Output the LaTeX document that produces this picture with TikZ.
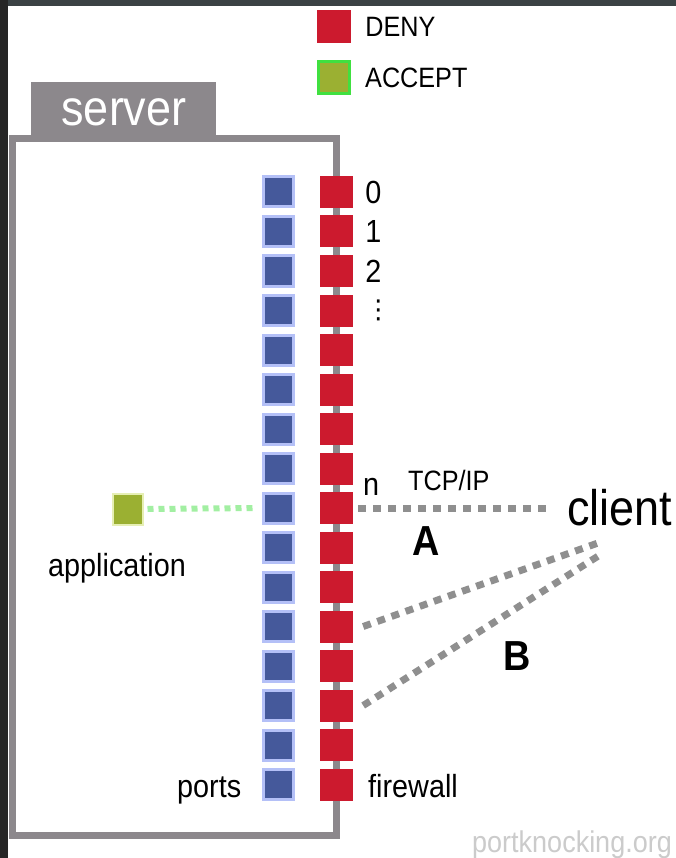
\documentclass[tikz,border=0pt]{standalone}
\usepackage{fontspec}
\setmainfont{Liberation Sans}[FakeStretch=0.9]
\newfontfamily\dotsfont{DejaVu Sans}
\usepackage{tikz}
\usetikzlibrary{positioning}

\definecolor{denyred}{HTML}{CC1A2E}
\definecolor{portblue}{HTML}{45599B}
\definecolor{porthalo}{HTML}{B4C0F7}
\definecolor{wallgray}{HTML}{8C888C}
\definecolor{appgreen}{HTML}{9BB032}
\definecolor{apphalo}{HTML}{E6EFB4}
\definecolor{linkgreen}{HTML}{A2EFA2}
\definecolor{acceptrim}{HTML}{40E040}
\definecolor{knockgray}{HTML}{8F8F8F}
\definecolor{framedark}{HTML}{3B4244}
\definecolor{credit}{HTML}{CBCBCB}

\tikzset{
    deny/.style={fill=denyred, minimum width=33pt, minimum height=32pt, inner sep=0pt},
    port/.style={fill=portblue, draw=porthalo, line width=3pt, minimum size=30pt, inner sep=0pt},
    wall/.style={draw=wallgray, line width=7pt},
    lbl/.style={font=\fontsize{32}{36}\selectfont, inner sep=0pt},
    knock/.style={draw=knockgray, line width=7pt, dash pattern=on 8pt off 7pt},
    link/.style={draw=linkgreen, line width=6pt, dash pattern=on 6pt off 5pt}
}

\begin{document}
\begin{tikzpicture}[x=1pt, y=-1pt]
    \useasboundingbox (0,0) rectangle (676,858);
    \fill[white] (0,0) rectangle (676,858);
    \fill[framedark] (0,0) rectangle (676,6);
    \fill[black!85] (0,0) rectangle (8,858);

    % legend
    \node[deny, minimum width=34pt, minimum height=33pt] (denykey) at (334,26.5) {};
    \node[lbl, font=\fontsize{28}{32}\selectfont, right=14pt of denykey] (denytxt) {DENY};
    \node[fill=appgreen, draw=acceptrim, line width=3pt, minimum width=31pt, minimum height=32pt, inner sep=0pt] (acceptkey) at (334,77.5) {};
    \node[lbl, font=\fontsize{28}{32}\selectfont, right=14pt of acceptkey] (accepttxt) {ACCEPT};

    % server
    \fill[wallgray] (31,82) rectangle (216,139);
    \node[lbl, font=\fontsize{50}{56}\selectfont, text=white, anchor=base] (srv) at (124,126) {server};
    \draw[wall] (12,139) rectangle (336,835);

    \foreach \i in {0,...,15} {
        \node[port] (p\i) at (278.5,{192+39.5*\i}) {};
        \node[deny] (f\i) at (336.5,{192+39.5*\i}) {};
    }

    \node[lbl, right=12pt of f0] (n0) {0};
    \node[lbl, right=12pt of f1] (n1) {1};
    \node[lbl, right=12pt of f2] (n2) {2};
    \node[inner sep=0pt, font=\dotsfont\fontsize{26}{28}\selectfont, right=12pt of f3] (ndots) {⋮};
    \node[lbl, anchor=base west] (nn) at (363,495) {n};

    % application
    \node[fill=appgreen, draw=apphalo, line width=2pt, minimum width=30pt, minimum height=31pt, inner sep=0pt] (app) at (127.5,509) {};
    \node[lbl, anchor=base west] (apptxt) at (48,576) {application};
    \draw[link] ([xshift=4pt]app.east) -- ([xshift=-5pt]p8.west);

    % client
    \node[lbl, font=\fontsize{50}{56}\selectfont, anchor=base west] (client) at (567,525) {client};
    \node[lbl, font=\fontsize{28}{32}\selectfont, anchor=base west] (tcp) at (408,490) {TCP/IP};
    \coordinate (kb1) at (598,543);
    \coordinate (kb2) at (603,553);
    \draw[knock] ([xshift=5pt]f8.east) -- ([xshift=-14pt]client.west |- f8);
    \draw[knock] ([xshift=10pt]f11.east) -- (kb1);
    \draw[knock] ([xshift=10pt]f13.east) -- (kb2);
    \node[lbl, font=\fontsize{42}{46}\selectfont\bfseries, anchor=base west] (knocka) at (412,555) {A};
    \node[lbl, font=\fontsize{42}{46}\selectfont\bfseries, anchor=base west] (knockb) at (503,670) {B};

    % bottom labels
    \node[lbl, anchor=base west] (portstxt) at (177,797) {ports};
    \node[lbl, anchor=base west] (fwtxt) at (368,797) {firewall};
    \node[lbl, font=\fontsize{30}{34}\selectfont, text=credit, anchor=base west] (pk) at (472,852) {portknocking.org};
\end{tikzpicture}
\end{document}
